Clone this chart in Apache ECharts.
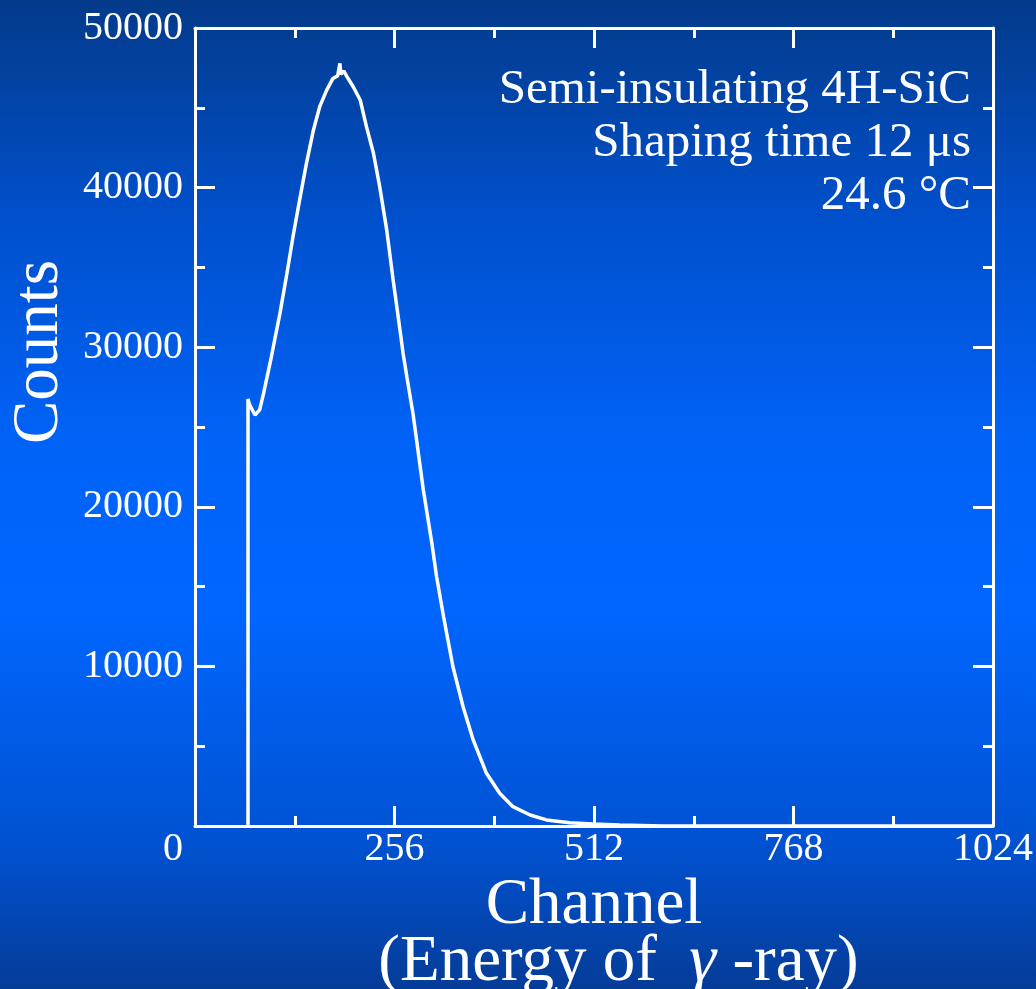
<!DOCTYPE html>
<html>
<head>
<meta charset="utf-8">
<script src="https://cdn.jsdelivr.net/npm/echarts@6/dist/echarts.min.js"></script>
<style>
html,body{margin:0;padding:0;width:1036px;height:989px;overflow:hidden;}
#c{width:1036px;height:989px;}
</style>
</head>
<body>
<div id="c"></div>
<script>
// Channel positions and counts
const channels = [68, 68, 70, 77, 83, 88, 98, 109, 118, 126, 135, 143, 152, 160, 169, 177, 183, 186, 187, 191, 195, 203, 212, 220, 229, 237, 246, 254, 263, 267, 272, 280, 293, 304, 310, 319, 331, 344, 357, 374, 391, 408, 430, 451, 481, 511, 545, 600, 1024];
const counts   = [0, 26750, 26400, 25750, 26070, 27110, 29400, 32120, 34630, 37000, 39430, 41520, 43610, 45070, 46110, 46840, 47000, 47790, 47100, 47300, 46950, 46320, 45490, 43820, 42150, 40060, 37350, 34300, 31100, 29620, 28100, 25750, 21050, 17700, 15620, 13110, 9980, 7470, 5390, 3300, 2050, 1210, 690, 380, 210, 130, 60, 0, 0];
const xTicks = [0, 256, 512, 768, 1024];
const yTicks = [0, 10000, 20000, 30000, 40000, 50000];
const annotationLines = ['Semi-insulating 4H-SiC', 'Shaping time 12 \u03bcs', '24.6 \u00b0C'];

const seriesData = channels.map((c, i) => [c, counts[i]]);
const FONT = "'Liberation Serif', 'Times New Roman', serif";

const chart = echarts.init(document.getElementById('c'), null, {renderer: 'canvas'});

const axisCommonX = {
  type: 'value',
  min: xTicks[0], max: xTicks[xTicks.length - 1], interval: xTicks[1] - xTicks[0],
  axisLine: {show: true, onZero: false, lineStyle: {color: '#fff', width: 3}},
  axisTick: {show: true, inside: true, length: 20, lineStyle: {color: '#fff', width: 3}},
  minorTick: {show: true, splitNumber: 2, length: 10, lineStyle: {color: '#fff', width: 3}},
  splitLine: {show: false}
};
const axisCommonY = {
  type: 'value',
  min: yTicks[0], max: yTicks[yTicks.length - 1], interval: yTicks[1] - yTicks[0],
  axisLine: {show: true, onZero: false, lineStyle: {color: '#fff', width: 3}},
  axisTick: {show: true, inside: true, length: 20, lineStyle: {color: '#fff', width: 3}},
  minorTick: {show: true, splitNumber: 2, length: 10, lineStyle: {color: '#fff', width: 3}},
  splitLine: {show: false}
};

chart.setOption({
  animation: false,
  backgroundColor: {
    type: 'linear', x: 0, y: 0, x2: 0, y2: 1,
    colorStops: [
      {offset: 0, color: '#033a8a'},
      {offset: 0.22, color: '#0050cc'},
      {offset: 0.45, color: '#0063f8'},
      {offset: 0.62, color: '#0066ff'},
      {offset: 0.85, color: '#0052d2'},
      {offset: 1, color: '#053c98'}
    ]
  },
  title: {
    text: annotationLines.join('\n'),
    left: 966, top: 59,
    textAlign: 'right',
    textStyle: {color: '#fff', fontFamily: FONT, fontSize: 49, fontWeight: 'normal', lineHeight: 53, align: 'right'}
  },
  grid: {left: 195, top: 28, right: 43, bottom: 163, containLabel: false, outerBoundsMode: 'none'},
  xAxis: [
    Object.assign({}, axisCommonX, {
      position: 'bottom',
      name: '{a|Channel}\n{p|(Energy of  }{g|\u03b3}{b| -ray)}',
      nameLocation: 'middle', nameGap: 42,
      nameTextStyle: {
        color: '#fff', fontFamily: FONT, fontSize: 65, lineHeight: 57,
        rich: {
          a: {color: '#fff', fontFamily: FONT, fontSize: 65, lineHeight: 57},
          p: {color: '#fff', fontFamily: FONT, fontSize: 65, lineHeight: 57, padding: [0, 0, 0, 49]},
          b: {color: '#fff', fontFamily: FONT, fontSize: 65, lineHeight: 57},
          g: {color: '#fff', fontFamily: FONT, fontSize: 68, lineHeight: 57, fontStyle: 'italic'}
        }
      },
      axisLabel: {
        color: '#fff', fontFamily: FONT, fontSize: 40, margin: 3,
        formatter: function (v) { return v === 0 ? '{z|0}' : String(v); },
        rich: {z: {color: '#fff', fontFamily: FONT, fontSize: 40, padding: [0, 44, 0, 0]}}
      }
    }),
    Object.assign({}, axisCommonX, {position: 'top', axisLabel: {show: false}})
  ],
  yAxis: [
    Object.assign({}, axisCommonY, {
      position: 'left',
      name: 'Counts', nameLocation: 'middle', nameRotate: 90, nameGap: 100,
      nameTextStyle: {color: '#fff', fontFamily: FONT, fontSize: 65, padding: [0, 0, 0, 150]},
      axisLabel: {color: '#fff', fontFamily: FONT, fontSize: 40, margin: 12, showMinLabel: false,
        formatter: function (v) { return String(v); }}
    }),
    Object.assign({}, axisCommonY, {position: 'right', axisLabel: {show: false}})
  ],
  series: [{
    type: 'line',
    xAxisIndex: 0, yAxisIndex: 0,
    data: seriesData,
    showSymbol: false, symbol: 'none',
    lineStyle: {color: '#fff', width: 3.5},
    z: 5
  }]
});
</script>
</body>
</html>
